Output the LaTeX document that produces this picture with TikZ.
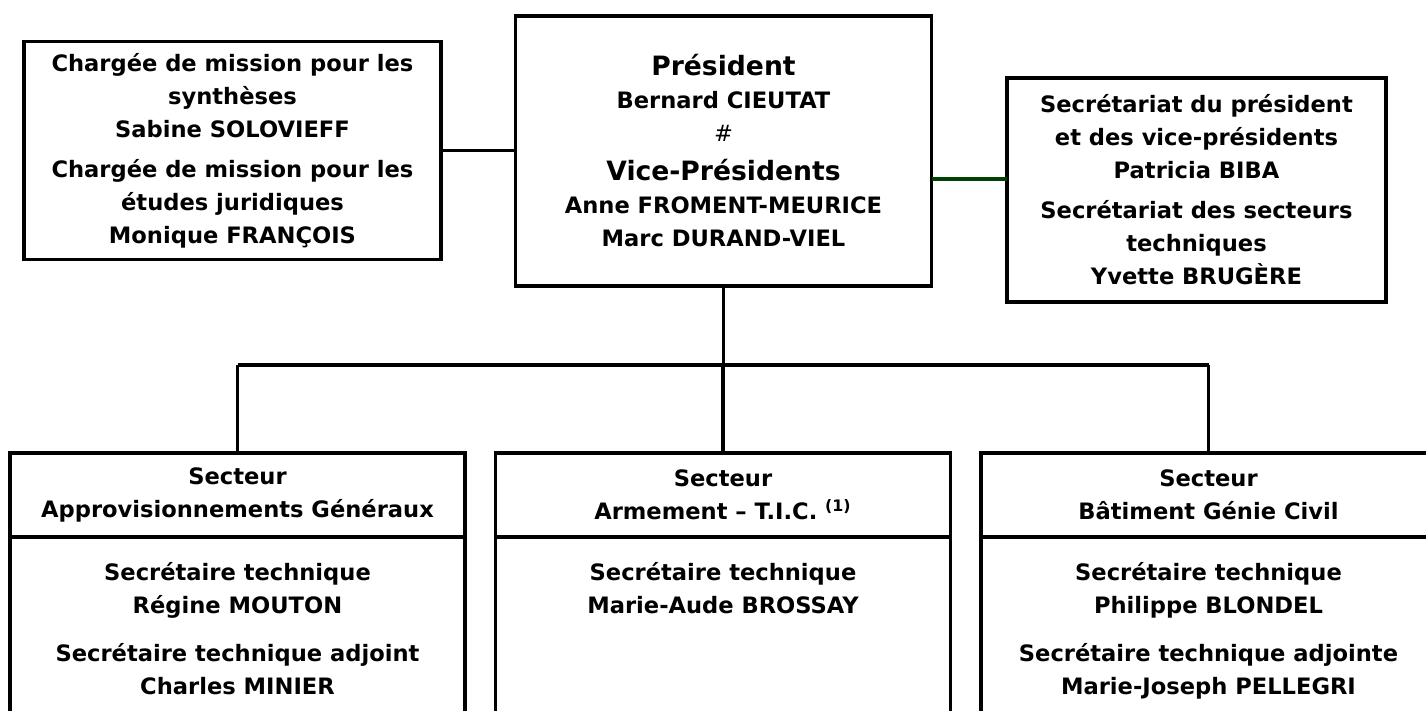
\documentclass[tikz,border=0pt]{standalone}
\usepackage{fontspec}
\setmainfont{DejaVu Sans}
\usepackage{tikz}
\usetikzlibrary{positioning}
\definecolor{linkgreen}{RGB}{0,64,0}
\newcommand{\orgfont}{\fontsize{11.3}{16.5}\selectfont\bfseries}
\newcommand{\titlefont}{\fontsize{13.3}{16.5}\selectfont}
\tikzset{every picture/.style={x=0.5pt,y=-0.5pt},
  box/.style={draw,line width=1.6pt,inner sep=0pt,outer sep=0pt,align=center,font=\orgfont},
  secttext/.style={anchor=north,inner sep=0pt,align=center,font=\orgfont},
  link/.style={line width=1.6pt}}

\begin{document}
\begin{tikzpicture}
            \clip (0,0) rectangle (1426,711);

            \node[box, minimum width=208.5pt, minimum height=109pt] (miss) at (232.5, 150.5)
              {Chargée de mission pour les\\synthèses\\Sabine SOLOVIEFF\\[3.5pt]
               Chargée de mission pour les\\études juridiques\\Monique FRANÇOIS};
            \node[box, minimum width=208pt, minimum height=135pt] (pres) at (723.5, 151)
              {{\titlefont Président}\\Bernard CIEUTAT\\{\mdseries\#}\\[3pt]
               {\titlefont Vice-Présidents}\\Anne FROMENT-MEURICE\\Marc DURAND-VIEL};
            \node[box, minimum width=189.5pt, minimum height=112pt] (secr) at (1196.5, 190)
              {Secrétariat du président\\et des vice-présidents\\Patricia BIBA\\[3.5pt]
               Secrétariat des secteurs\\techniques\\Yvette BRUGÈRE};

            % secteurs
            \node[box, minimum width=227.5pt, minimum height=42pt] (hAG) at (237.5, 495)
              {Secteur\\Approvisionnements Généraux};
            \node[box, minimum width=227.5pt, minimum height=42pt] (hAT) at (723, 495)
              {Secteur\\Armement -- T.I.C. \textsuperscript{(1)}};
            \node[box, minimum width=227.5pt, minimum height=42pt] (hBG) at (1208.5, 495)
              {Secteur\\Bâtiment Génie Civil};
            \foreach \sec in {AG, AT, BG}
              \node[box, minimum width=227.5pt, minimum height=112pt, anchor=north] (b\sec) at (h\sec.south) {};

            \node[secttext] (tAG) at (237.5, 562)
              {Secrétaire technique\\Régine MOUTON\\[7.5pt]Secrétaire technique adjoint\\Charles MINIER};
            \node[secttext] (tAT) at (723, 562)
              {Secrétaire technique\\Marie-Aude BROSSAY};
            \node[secttext] (tBG) at (1208.5, 562)
              {Secrétaire technique\\Philippe BLONDEL\\[7.5pt]Secrétaire technique adjointe\\Marie-Joseph PELLEGRI};

            \coordinate (bus) at (723, 365);
            \draw[link] (miss.east) -- (miss.east -| pres.west);
            \draw[link, linkgreen] ([yshift=5.5pt]secr.west) -- ([yshift=5.5pt]secr.west -| pres.east);
            \draw[link] (pres.south) -- (pres.south |- bus);
            \draw[link] (bus -| hAG.north) -- (bus -| hBG.north);
            \foreach \sec in {hAG, hAT, hBG}
              \draw[link] (bus -| \sec.north) -- (\sec.north);
        \end{tikzpicture}
\end{document}
